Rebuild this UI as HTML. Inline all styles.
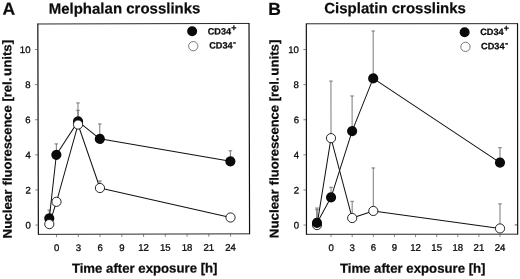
<!DOCTYPE html>
<html><head><meta charset="utf-8"><title>Crosslinks</title>
<style>
html,body{margin:0;padding:0;background:#fff;}
svg{display:block;font-family:"Liberation Sans",sans-serif;filter:blur(0.35px);}
</style></head>
<body>
<svg width="520" height="279" viewBox="0 0 520 279">
<rect width="520" height="279" fill="#fff"/>
<g transform="translate(0 0) rotate(-0.15 143 129)">
<path d="M38.1 23.72H249.3M38.1 234.1H249.3" stroke="#111" stroke-width="0.9" fill="none"/>
<path d="M38.1 23.32V234.5M249.3 23.32V234.5" stroke="#111" stroke-width="1.2" fill="none"/>
<line x1="35.1" y1="224.75" x2="38.1" y2="224.75" stroke="#444" stroke-width="0.65"/>
<text x="30.7" y="228.2" font-size="9.6" text-anchor="end" fill="#0c0c0c" stroke="#0c0c0c" stroke-width="0.3">0</text>
<line x1="35.1" y1="189.65" x2="38.1" y2="189.65" stroke="#444" stroke-width="0.65"/>
<text x="30.7" y="193.1" font-size="9.6" text-anchor="end" fill="#0c0c0c" stroke="#0c0c0c" stroke-width="0.3">2</text>
<line x1="35.1" y1="154.55" x2="38.1" y2="154.55" stroke="#444" stroke-width="0.65"/>
<text x="30.7" y="158" font-size="9.6" text-anchor="end" fill="#0c0c0c" stroke="#0c0c0c" stroke-width="0.3">4</text>
<line x1="35.1" y1="119.45" x2="38.1" y2="119.45" stroke="#444" stroke-width="0.65"/>
<text x="30.7" y="122.9" font-size="9.6" text-anchor="end" fill="#0c0c0c" stroke="#0c0c0c" stroke-width="0.3">6</text>
<line x1="35.1" y1="84.35" x2="38.1" y2="84.35" stroke="#444" stroke-width="0.65"/>
<text x="30.7" y="87.8" font-size="9.6" text-anchor="end" fill="#0c0c0c" stroke="#0c0c0c" stroke-width="0.3">8</text>
<line x1="35.1" y1="49.25" x2="38.1" y2="49.25" stroke="#444" stroke-width="0.65"/>
<text x="30.7" y="52.7" font-size="9.6" text-anchor="end" fill="#0c0c0c" stroke="#0c0c0c" stroke-width="0.3">10</text>
<line x1="56.3" y1="234.1" x2="56.3" y2="236.9" stroke="#444" stroke-width="0.65"/>
<text x="56.3" y="250.85" font-size="9.6" text-anchor="middle" fill="#0c0c0c" stroke="#0c0c0c" stroke-width="0.3">0</text>
<line x1="78.05" y1="234.1" x2="78.05" y2="236.9" stroke="#444" stroke-width="0.65"/>
<text x="78.05" y="250.85" font-size="9.6" text-anchor="middle" fill="#0c0c0c" stroke="#0c0c0c" stroke-width="0.3">3</text>
<line x1="99.8" y1="234.1" x2="99.8" y2="236.9" stroke="#444" stroke-width="0.65"/>
<text x="99.8" y="250.85" font-size="9.6" text-anchor="middle" fill="#0c0c0c" stroke="#0c0c0c" stroke-width="0.3">6</text>
<line x1="121.55" y1="234.1" x2="121.55" y2="236.9" stroke="#444" stroke-width="0.65"/>
<text x="121.55" y="250.85" font-size="9.6" text-anchor="middle" fill="#0c0c0c" stroke="#0c0c0c" stroke-width="0.3">9</text>
<line x1="143.3" y1="234.1" x2="143.3" y2="236.9" stroke="#444" stroke-width="0.65"/>
<text x="143.3" y="250.85" font-size="9.6" text-anchor="middle" fill="#0c0c0c" stroke="#0c0c0c" stroke-width="0.3">12</text>
<line x1="165.05" y1="234.1" x2="165.05" y2="236.9" stroke="#444" stroke-width="0.65"/>
<text x="165.05" y="250.85" font-size="9.6" text-anchor="middle" fill="#0c0c0c" stroke="#0c0c0c" stroke-width="0.3">15</text>
<line x1="186.8" y1="234.1" x2="186.8" y2="236.9" stroke="#444" stroke-width="0.65"/>
<text x="186.8" y="250.85" font-size="9.6" text-anchor="middle" fill="#0c0c0c" stroke="#0c0c0c" stroke-width="0.3">18</text>
<line x1="208.55" y1="234.1" x2="208.55" y2="236.9" stroke="#444" stroke-width="0.65"/>
<text x="208.55" y="250.85" font-size="9.6" text-anchor="middle" fill="#0c0c0c" stroke="#0c0c0c" stroke-width="0.3">21</text>
<line x1="230.3" y1="234.1" x2="230.3" y2="236.9" stroke="#444" stroke-width="0.65"/>
<text x="230.3" y="250.85" font-size="9.6" text-anchor="middle" fill="#0c0c0c" stroke="#0c0c0c" stroke-width="0.3">24</text>
<path d="M78.05 124.36V110.15M76.25 110.15H79.85" stroke="#6a6a6a" stroke-width="0.9" fill="none"/>
<path d="M99.8 187.89V180.88M98 180.88H101.6" stroke="#6a6a6a" stroke-width="0.9" fill="none"/>
<path d="M49.05 218.08V209.83M47.25 209.83H50.85" stroke="#6a6a6a" stroke-width="0.9" fill="none"/>
<path d="M56.3 154.55V143.67M54.5 143.67H58.1" stroke="#6a6a6a" stroke-width="0.9" fill="none"/>
<path d="M78.05 121.2V102.78M76.25 102.78H79.85" stroke="#6a6a6a" stroke-width="0.9" fill="none"/>
<path d="M99.8 138.75V123.84M98 123.84H101.6" stroke="#6a6a6a" stroke-width="0.9" fill="none"/>
<path d="M230.3 161.57V151.04M228.5 151.04H232.1" stroke="#6a6a6a" stroke-width="0.9" fill="none"/>
<path d="M49.05 223.87L56.3 201.58L78.05 124.36L99.8 187.89L230.3 217.73" stroke="#111" stroke-width="1" fill="none" stroke-linejoin="round"/>
<path d="M49.05 218.08L56.3 154.55L78.05 121.2L99.8 138.75L230.3 161.57" stroke="#111" stroke-width="1" fill="none" stroke-linejoin="round"/>
<circle cx="49.05" cy="218.08" r="5.1" fill="#0a0a0a"/>
<circle cx="56.3" cy="154.55" r="5.1" fill="#0a0a0a"/>
<circle cx="78.05" cy="121.2" r="5.1" fill="#0a0a0a"/>
<circle cx="99.8" cy="138.75" r="5.1" fill="#0a0a0a"/>
<circle cx="230.3" cy="161.57" r="5.1" fill="#0a0a0a"/>
<circle cx="49.05" cy="223.87" r="4.6" fill="#fff" stroke="#111" stroke-width="0.9"/>
<circle cx="56.3" cy="201.58" r="4.6" fill="#fff" stroke="#111" stroke-width="0.9"/>
<circle cx="78.05" cy="124.36" r="4.6" fill="#fff" stroke="#111" stroke-width="0.9"/>
<circle cx="99.8" cy="187.89" r="4.6" fill="#fff" stroke="#111" stroke-width="0.9"/>
<circle cx="230.3" cy="217.73" r="4.6" fill="#fff" stroke="#111" stroke-width="0.9"/>
<circle cx="192.4" cy="31.3" r="5" fill="#0a0a0a"/>
<circle cx="193.5" cy="46.3" r="4.65" fill="#fff" stroke="#444" stroke-width="0.7"/>
<text x="207.9" y="34.6" font-size="9.2" font-weight="bold" fill="#0c0c0c" stroke="#0c0c0c" stroke-width="0.25">CD34<tspan dy="-3.7" font-size="9">+</tspan></text>
<text x="209.4" y="48.8" font-size="9.2" font-weight="bold" fill="#0c0c0c" stroke="#0c0c0c" stroke-width="0.25">CD34<tspan dy="-3.6" dx="0.7" font-size="8" stroke-width="0.45">-</tspan></text>
<text x="2.9" y="14.5" font-size="17.5" font-weight="bold" fill="#0c0c0c" stroke="#0c0c0c" stroke-width="0.2">A</text>
<text x="49" y="13.5" font-size="15" font-weight="bold" fill="#0c0c0c" stroke="#0c0c0c" stroke-width="0.2">Melphalan crosslinks</text>
<text x="71.5" y="272.7" font-size="13.2" font-weight="bold" fill="#0c0c0c" stroke="#0c0c0c" stroke-width="0.25">Time after exposure [h]</text>
<text transform="translate(11.5 238.1) rotate(-90)" font-size="12.6" font-weight="bold" fill="#0c0c0c" stroke="#0c0c0c" stroke-width="0.25" textLength="48.9" lengthAdjust="spacingAndGlyphs">Nuclear</text>
<text transform="translate(11.5 185.05) rotate(-90)" font-size="12.6" font-weight="bold" fill="#0c0c0c" stroke="#0c0c0c" stroke-width="0.25" textLength="107.65" lengthAdjust="spacingAndGlyphs">fluorescence [rel.</text>
<text transform="translate(11.5 75.6) rotate(-90)" font-size="12.6" font-weight="bold" fill="#0c0c0c" stroke="#0c0c0c" stroke-width="0.25" textLength="36.1" lengthAdjust="spacingAndGlyphs">units]</text>
</g>
<g transform="translate(268.3 0) rotate(-0.04 143 129)">
<path d="M38.1 23.72H249.3M38.1 234.25H249.3" stroke="#111" stroke-width="0.9" fill="none"/>
<path d="M38.1 23.32V234.65M249.3 23.32V234.65" stroke="#111" stroke-width="1.2" fill="none"/>
<line x1="35.1" y1="225" x2="38.1" y2="225" stroke="#444" stroke-width="0.65"/>
<text x="30.7" y="228.45" font-size="9.6" text-anchor="end" fill="#0c0c0c" stroke="#0c0c0c" stroke-width="0.3">0</text>
<line x1="35.1" y1="189.88" x2="38.1" y2="189.88" stroke="#444" stroke-width="0.65"/>
<text x="30.7" y="193.33" font-size="9.6" text-anchor="end" fill="#0c0c0c" stroke="#0c0c0c" stroke-width="0.3">2</text>
<line x1="35.1" y1="154.76" x2="38.1" y2="154.76" stroke="#444" stroke-width="0.65"/>
<text x="30.7" y="158.21" font-size="9.6" text-anchor="end" fill="#0c0c0c" stroke="#0c0c0c" stroke-width="0.3">4</text>
<line x1="35.1" y1="119.64" x2="38.1" y2="119.64" stroke="#444" stroke-width="0.65"/>
<text x="30.7" y="123.09" font-size="9.6" text-anchor="end" fill="#0c0c0c" stroke="#0c0c0c" stroke-width="0.3">6</text>
<line x1="35.1" y1="84.52" x2="38.1" y2="84.52" stroke="#444" stroke-width="0.65"/>
<text x="30.7" y="87.97" font-size="9.6" text-anchor="end" fill="#0c0c0c" stroke="#0c0c0c" stroke-width="0.3">8</text>
<line x1="35.1" y1="49.4" x2="38.1" y2="49.4" stroke="#444" stroke-width="0.65"/>
<text x="30.7" y="52.85" font-size="9.6" text-anchor="end" fill="#0c0c0c" stroke="#0c0c0c" stroke-width="0.3">10</text>
<line x1="62.7" y1="234.25" x2="62.7" y2="237.05" stroke="#444" stroke-width="0.65"/>
<text x="62.7" y="250.85" font-size="9.6" text-anchor="middle" fill="#0c0c0c" stroke="#0c0c0c" stroke-width="0.3">0</text>
<line x1="83.82" y1="234.25" x2="83.82" y2="237.05" stroke="#444" stroke-width="0.65"/>
<text x="83.82" y="250.85" font-size="9.6" text-anchor="middle" fill="#0c0c0c" stroke="#0c0c0c" stroke-width="0.3">3</text>
<line x1="104.94" y1="234.25" x2="104.94" y2="237.05" stroke="#444" stroke-width="0.65"/>
<text x="104.94" y="250.85" font-size="9.6" text-anchor="middle" fill="#0c0c0c" stroke="#0c0c0c" stroke-width="0.3">6</text>
<line x1="126.06" y1="234.25" x2="126.06" y2="237.05" stroke="#444" stroke-width="0.65"/>
<text x="126.06" y="250.85" font-size="9.6" text-anchor="middle" fill="#0c0c0c" stroke="#0c0c0c" stroke-width="0.3">9</text>
<line x1="147.18" y1="234.25" x2="147.18" y2="237.05" stroke="#444" stroke-width="0.65"/>
<text x="147.18" y="250.85" font-size="9.6" text-anchor="middle" fill="#0c0c0c" stroke="#0c0c0c" stroke-width="0.3">12</text>
<line x1="168.3" y1="234.25" x2="168.3" y2="237.05" stroke="#444" stroke-width="0.65"/>
<text x="168.3" y="250.85" font-size="9.6" text-anchor="middle" fill="#0c0c0c" stroke="#0c0c0c" stroke-width="0.3">15</text>
<line x1="189.42" y1="234.25" x2="189.42" y2="237.05" stroke="#444" stroke-width="0.65"/>
<text x="189.42" y="250.85" font-size="9.6" text-anchor="middle" fill="#0c0c0c" stroke="#0c0c0c" stroke-width="0.3">18</text>
<line x1="210.54" y1="234.25" x2="210.54" y2="237.05" stroke="#444" stroke-width="0.65"/>
<text x="210.54" y="250.85" font-size="9.6" text-anchor="middle" fill="#0c0c0c" stroke="#0c0c0c" stroke-width="0.3">21</text>
<line x1="231.66" y1="234.25" x2="231.66" y2="237.05" stroke="#444" stroke-width="0.65"/>
<text x="231.66" y="250.85" font-size="9.6" text-anchor="middle" fill="#0c0c0c" stroke="#0c0c0c" stroke-width="0.3">24</text>
<line x1="246.3" y1="225" x2="249.3" y2="225" stroke="#111" stroke-width="0.7"/>
<path d="M48.62 225V207.97M46.82 207.97H50.42" stroke="#6a6a6a" stroke-width="0.9" fill="none"/>
<path d="M62.7 138.08V81.01M60.9 81.01H64.5" stroke="#6a6a6a" stroke-width="0.9" fill="none"/>
<path d="M83.82 217.98V201.29M82.02 201.29H85.62" stroke="#6a6a6a" stroke-width="0.9" fill="none"/>
<path d="M104.94 210.95V167.93M103.14 167.93H106.74" stroke="#6a6a6a" stroke-width="0.9" fill="none"/>
<path d="M231.66 228.51V203.93M229.86 203.93H233.46" stroke="#6a6a6a" stroke-width="0.9" fill="none"/>
<path d="M48.62 222.89V209.72M46.82 209.72H50.42" stroke="#6a6a6a" stroke-width="0.9" fill="none"/>
<path d="M62.7 197.26V187.25M60.9 187.25H64.5" stroke="#6a6a6a" stroke-width="0.9" fill="none"/>
<path d="M83.82 131.05V95.93M82.02 95.93H85.62" stroke="#6a6a6a" stroke-width="0.9" fill="none"/>
<path d="M104.94 78.37V30.96M103.14 30.96H106.74" stroke="#6a6a6a" stroke-width="0.9" fill="none"/>
<path d="M231.66 162.66V147.74M229.86 147.74H233.46" stroke="#6a6a6a" stroke-width="0.9" fill="none"/>
<path d="M48.62 225L62.7 138.08L83.82 217.98L104.94 210.95L231.66 228.51" stroke="#111" stroke-width="1" fill="none" stroke-linejoin="round"/>
<path d="M48.62 222.89L62.7 197.26L83.82 131.05L104.94 78.37L231.66 162.66" stroke="#111" stroke-width="1" fill="none" stroke-linejoin="round"/>
<circle cx="48.62" cy="225" r="4.6" fill="#fff" stroke="#111" stroke-width="0.9"/>
<circle cx="62.7" cy="138.08" r="4.6" fill="#fff" stroke="#111" stroke-width="0.9"/>
<circle cx="83.82" cy="217.98" r="4.6" fill="#fff" stroke="#111" stroke-width="0.9"/>
<circle cx="104.94" cy="210.95" r="4.6" fill="#fff" stroke="#111" stroke-width="0.9"/>
<circle cx="231.66" cy="228.51" r="4.6" fill="#fff" stroke="#111" stroke-width="0.9"/>
<circle cx="48.62" cy="222.89" r="5.1" fill="#0a0a0a"/>
<circle cx="62.7" cy="197.26" r="5.1" fill="#0a0a0a"/>
<circle cx="83.82" cy="131.05" r="5.1" fill="#0a0a0a"/>
<circle cx="104.94" cy="78.37" r="5.1" fill="#0a0a0a"/>
<circle cx="231.66" cy="162.66" r="5.1" fill="#0a0a0a"/>
<circle cx="196.4" cy="32.3" r="5" fill="#0a0a0a"/>
<circle cx="197.2" cy="46.9" r="4.65" fill="#fff" stroke="#444" stroke-width="0.7"/>
<text x="212" y="35" font-size="9.2" font-weight="bold" fill="#0c0c0c" stroke="#0c0c0c" stroke-width="0.25">CD34<tspan dy="-3.7" font-size="9">+</tspan></text>
<text x="212.8" y="49.4" font-size="9.2" font-weight="bold" fill="#0c0c0c" stroke="#0c0c0c" stroke-width="0.25">CD34<tspan dy="-3.6" dx="0.7" font-size="8" stroke-width="0.45">-</tspan></text>
<text x="0" y="15" font-size="17.5" font-weight="bold" fill="#0c0c0c" stroke="#0c0c0c" stroke-width="0.2">B</text>
<text x="56" y="13.2" font-size="15" font-weight="bold" fill="#0c0c0c" stroke="#0c0c0c" stroke-width="0.2">Cisplatin crosslinks</text>
<text x="71.5" y="272.7" font-size="13.2" font-weight="bold" fill="#0c0c0c" stroke="#0c0c0c" stroke-width="0.25">Time after exposure [h]</text>
<text transform="translate(10.2 238.1) rotate(-90)" font-size="12.6" font-weight="bold" fill="#0c0c0c" stroke="#0c0c0c" stroke-width="0.25" textLength="48.9" lengthAdjust="spacingAndGlyphs">Nuclear</text>
<text transform="translate(10.2 185.05) rotate(-90)" font-size="12.6" font-weight="bold" fill="#0c0c0c" stroke="#0c0c0c" stroke-width="0.25" textLength="107.65" lengthAdjust="spacingAndGlyphs">fluorescence [rel.</text>
<text transform="translate(10.2 75.6) rotate(-90)" font-size="12.6" font-weight="bold" fill="#0c0c0c" stroke="#0c0c0c" stroke-width="0.25" textLength="36.1" lengthAdjust="spacingAndGlyphs">units]</text>
</g>
</svg>
</body></html>
